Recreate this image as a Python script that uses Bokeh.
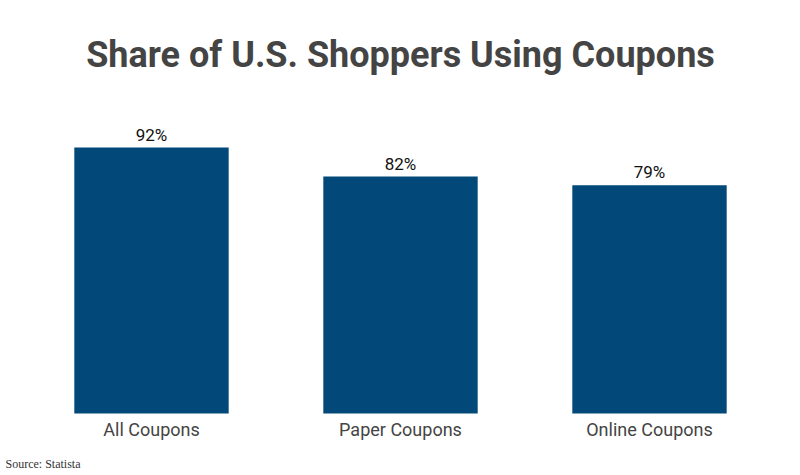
from bokeh.plotting import figure
from bokeh.models import ColumnDataSource, LabelSet, Label, FactorRange
from bokeh.core.properties import value
from bokeh.embed import file_html
from bokeh.resources import INLINE

categories = ["All Coupons", "Paper Coupons", "Online Coupons"]
values = [92, 82, 79]
value_labels = [f"{v}%" for v in values]
title_text = "Share of U.S. Shoppers Using Coupons"
source_text = "Source: Statista"

src = ColumnDataSource(dict(cat=categories, val=values, lab=value_labels,
                            ylab=[-5.7] * len(categories)))

xr = FactorRange(*categories, range_padding=0.1064, range_padding_units="absolute")
p = figure(x_range=xr, y_range=(-21.45, 142.9),
           width=800, height=475, output_backend="svg", toolbar_location=None,
           min_border=0)
p.vbar(x="cat", top="val", width=0.62, source=src, color="#02497a", line_color=None)

p.add_layout(LabelSet(x="cat", y="val", text="lab", source=src, text_align="center",
                      text_baseline="bottom", y_offset=3, text_font=value("Roboto"),
                      text_font_size="17px", text_color="#111111"))

p.text(x="cat", y="ylab", text="cat", source=src, text_align="center",
       text_baseline="middle", text_font=value("Roboto"), text_font_size="18px",
       text_color="#444444")

p.add_layout(Label(x=1.5, y=123.9, text=title_text,
                   text_align="center", text_baseline="middle", text_font="Roboto",
                   text_font_size="36px", text_font_style="bold", text_color="#444444"))
p.add_layout(Label(x=-0.0864, y=-17.6, text=source_text, text_align="left",
                   text_baseline="middle", text_font="Liberation Serif",
                   text_font_size="12px", text_color="#333333"))

p.axis.visible = False
p.xgrid.visible = False
p.ygrid.visible = False
p.outline_line_color = None
p.background_fill_color = "white"
p.border_fill_color = "white"

open("out.html", "w").write(file_html(p, INLINE))
